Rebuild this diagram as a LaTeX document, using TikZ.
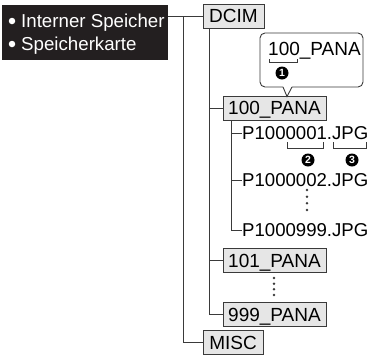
\documentclass[tikz,border=0pt]{standalone}
\usepackage{fontspec}
\setmainfont{Liberation Sans}
\definecolor{darkbox}{HTML}{231F20}
\definecolor{boxfill}{HTML}{E6E6E6}
\definecolor{lncol}{HTML}{3A3A3A}
\begin{document}
\begin{tikzpicture}[x=1pt,y=-1pt,
  ln/.style={draw=lncol, line width=0.9pt},
  box/.style={draw=lncol, fill=boxfill, line width=0.9pt, inner sep=0pt,
    minimum height=24pt, text height=13.5pt, text depth=0pt,
    font=\fontsize{19}{21}\selectfont},
  file/.style={anchor=west, inner sep=0pt, text height=13.5pt, text depth=0pt,
    font=\fontsize{18.6}{20}\selectfont},
  num/.style={circle, fill=black, text=white, inner sep=0pt, minimum size=13pt,
    font=\bfseries\fontsize{10.5}{11}\selectfont},
  dotp/.style={circle, fill=lncol, inner sep=0pt, minimum size=2.8pt},
  bullet/.style={circle, fill=white, inner sep=0pt, minimum size=6.5pt},
  srctext/.style={anchor=base west, inner sep=0pt, text=white,
    font=\fontsize{18.7}{20}\selectfont}
]
\useasboundingbox (0,0) rectangle (367,354);

% source box
\node (src) [fill=darkbox, inner sep=0pt, minimum width=166pt, minimum height=55pt] at (85,32.5) {};
\node (b1) [bullet] at (12,21) {};
\node (b2) [bullet] at (12,44) {};
\node (t1) [srctext] at (21,27) {Interner Speicher};
\node (t2) [srctext] at (21,50) {Speicherkarte};

% folder boxes
\node (dcim) [box, minimum width=61pt] at (233.5,16) {DCIM};
\node (p100) [box, minimum width=103pt] at (274.5,108) {100\_PANA};
\node (p101) [box, minimum width=103pt] at (274.5,260.5) {101\_PANA};
\node (p999) [box, minimum width=103pt] at (274.5,314.5) {999\_PANA};
\node (misc) [box, minimum width=60pt] at (233,342.5) {MISC};

% files
\node (f1) [file] at (242,133) {P1000001.JPG};
\node (f2) [file] at (242,180) {P1000002.JPG};
\node (f3) [file] at (242,230) {P1000999.JPG};

% connectors
\coordinate (j1) at (183,16);
\coordinate (j2) at (209,28);
\coordinate (j3) at (231,120);
\draw[ln] (dcim.west -| src.east) -- (dcim.west);
\draw[ln] (j1) |- (misc.west);
\draw[ln] (j2) |- (p100.west);
\draw[ln] (j2) |- (p101.west);
\draw[ln] (j2) |- (p999.west);
\draw[ln] (j3) |- (f1.west);
\draw[ln] (j3) |- (f2.west);
\draw[ln] (j3) |- (f3.west);

% vertical dots
\foreach \y [count=\i] in {190,196.7,203.3,210}
  \node (da\i) [dotp] at (307,\y) {};
\foreach \y [count=\i] in {278,283.7,289.3,295}
  \node (db\i) [dotp] at (274,\y) {};

% callout
\coordinate (tip) at (287,96.5);
\draw[ln, fill=white, rounded corners=5pt] (283,87) -- (260,87) -- (260,33) -- (363,33) -- (363,87) -- (292,87);
\draw[ln, line join=miter] (283,87) -- (tip) -- (292,87);
\node (ct) [inner sep=0pt, text height=13.5pt, text depth=0pt, font=\fontsize{19}{21}\selectfont] at (314.5,48.5) {100\_PANA};

% brackets and numbers
\draw[ln, line width=0.8pt] (269,59) -- (269,62) -- (297,62) -- (297,59);
\node (n1) [num] at (282,73) {1};
\draw[ln, line width=0.8pt] (287,142) -- (287,148) -- (323,148) -- (323,142);
\node (n2) [num] at (308,160) {2};
\draw[ln, line width=0.8pt] (333,142) -- (333,148) -- (366,148) -- (366,142);
\node (n3) [num] at (352,160) {3};
\end{tikzpicture}
\end{document}
